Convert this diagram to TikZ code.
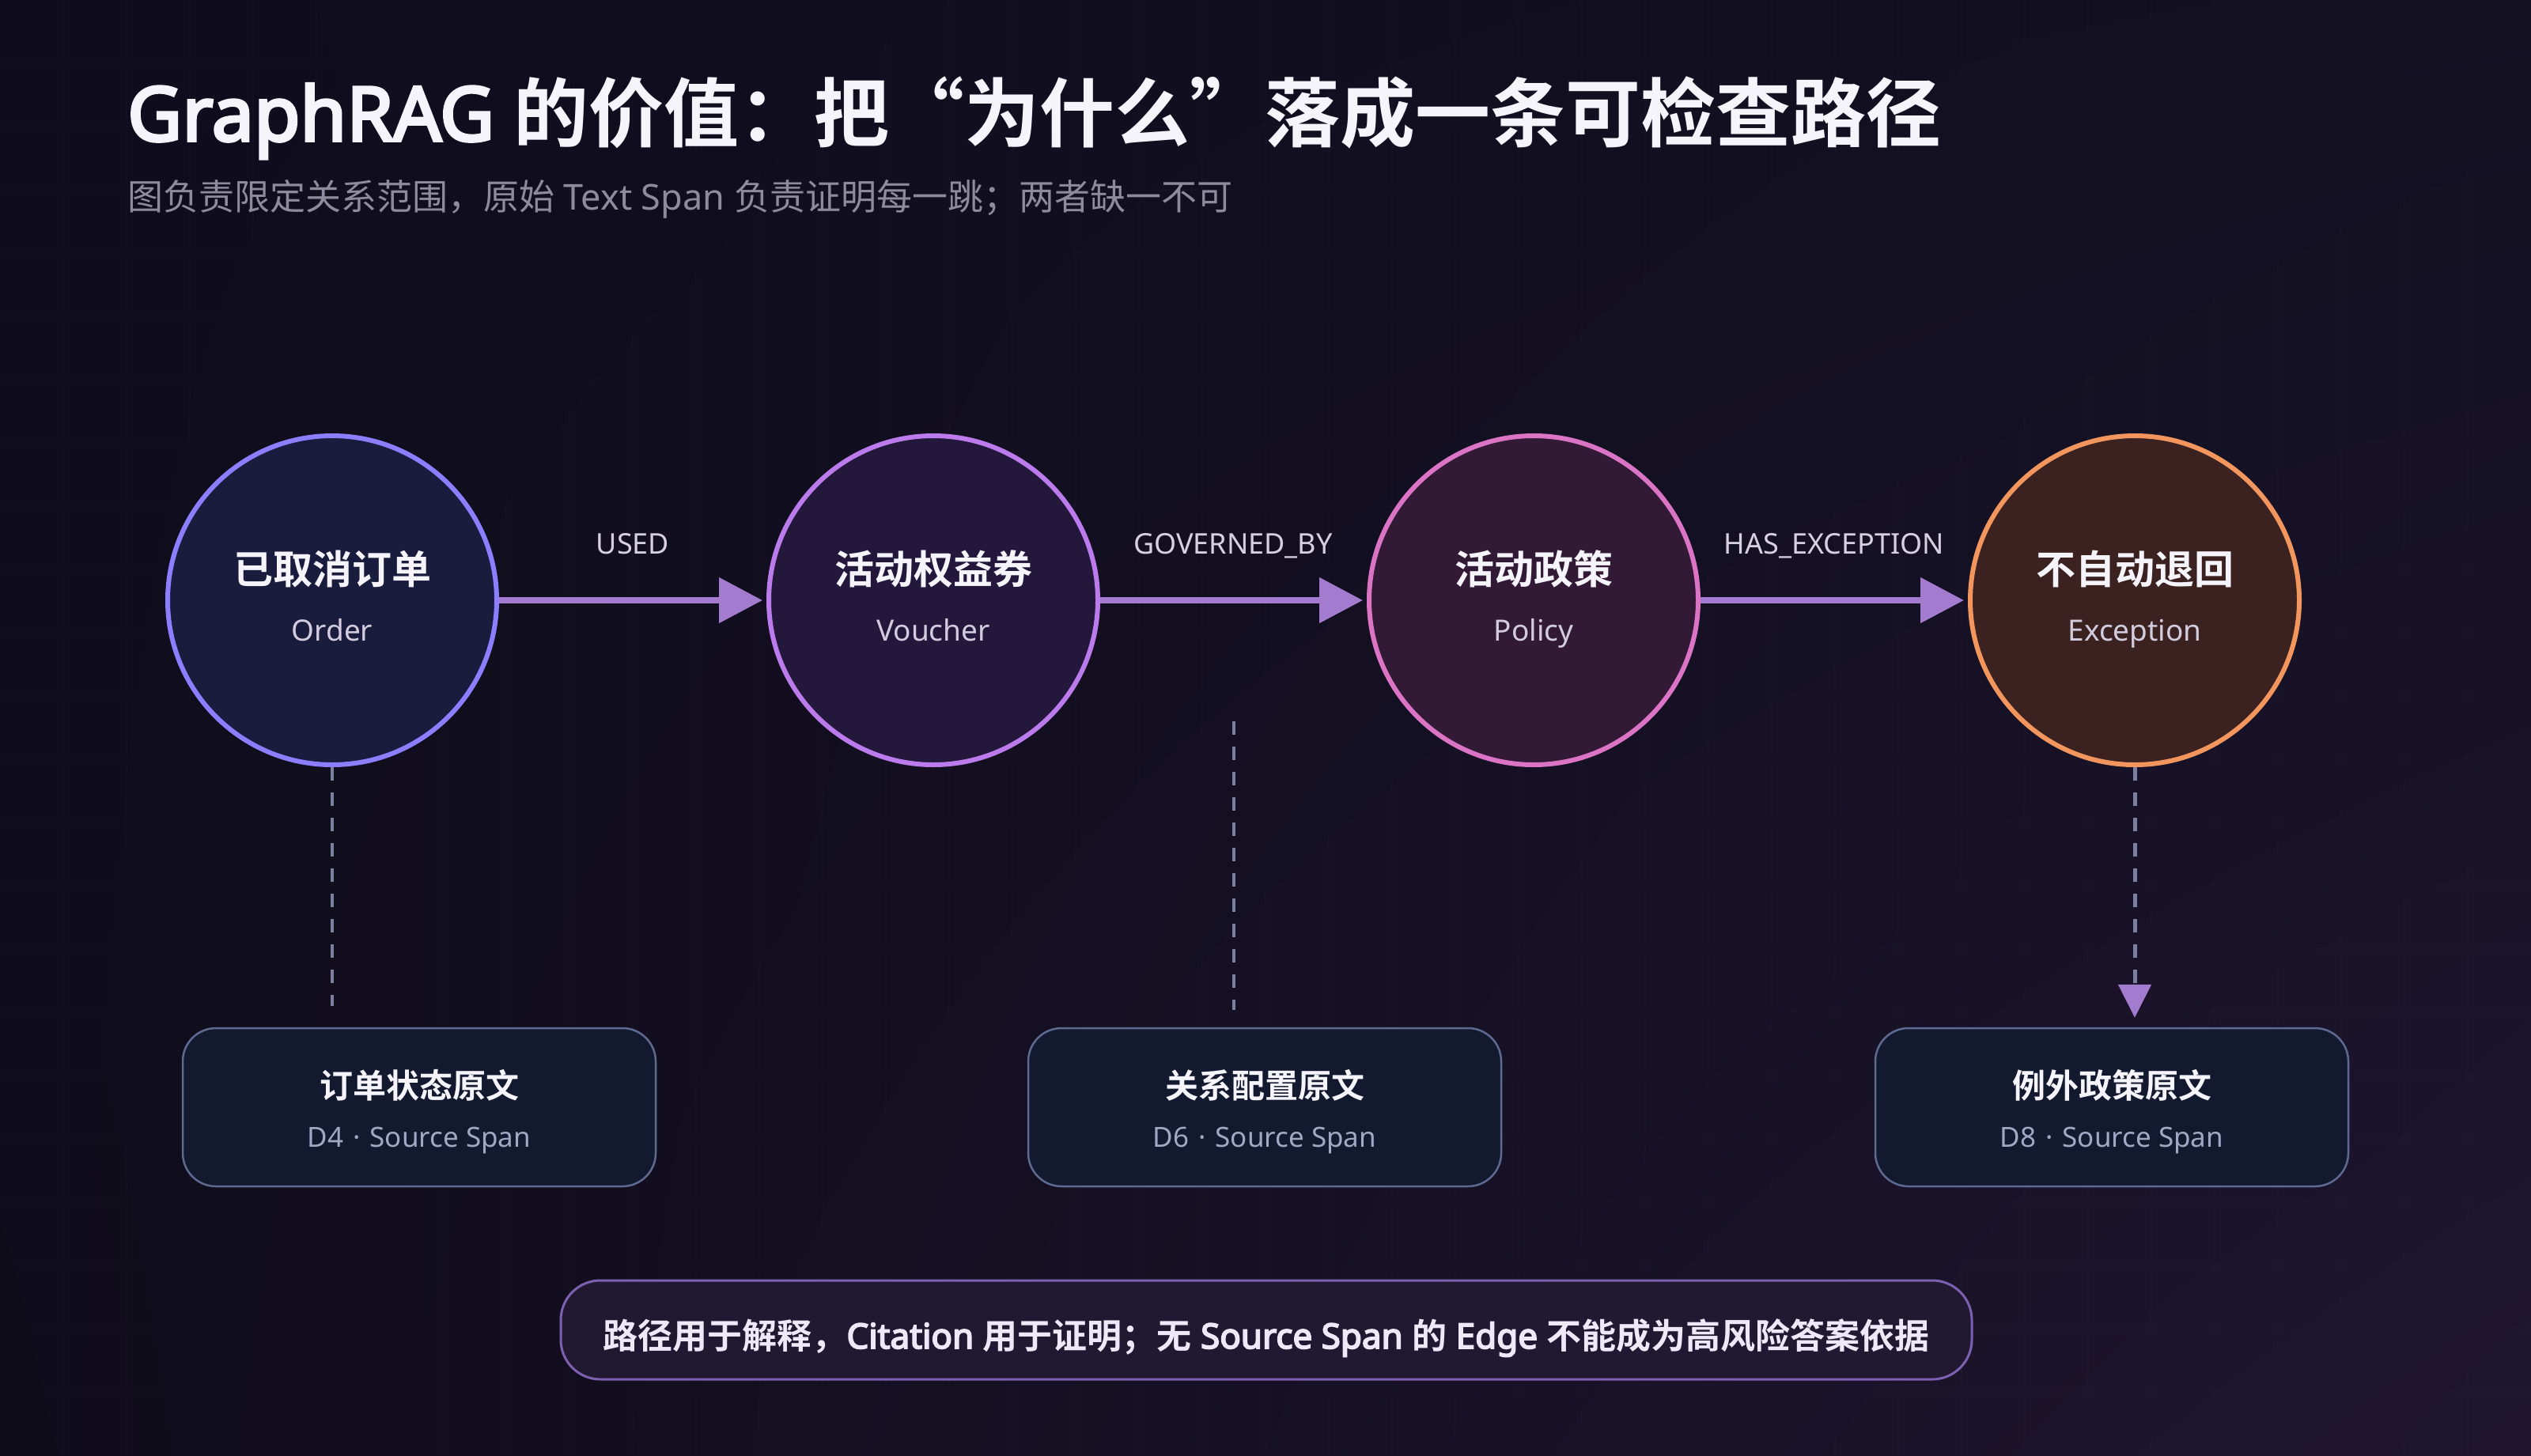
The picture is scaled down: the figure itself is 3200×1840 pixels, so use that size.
\documentclass[tikz,border=0pt]{standalone}
\usepackage{fontspec}
\setmainfont{Noto Sans}[BoldFont={Noto Sans}, BoldFeatures={FakeBold=4}]
\newfontfamily\cjk{Noto Sans CJK SC}[BoldFont={Noto Sans CJK SC Bold}]
\usetikzlibrary{arrows.meta,calc,shadings}
\definecolor{bgTL}{HTML}{0F0D1D}
\definecolor{bgTR}{HTML}{121021}
\definecolor{bgBL}{HTML}{0F0C1A}
\definecolor{bgBR}{HTML}{1F1530}
\definecolor{titlec}{HTML}{F6F4FB}
\definecolor{subc}{HTML}{8E8B9F}
\definecolor{arrowc}{HTML}{A47CCF}
\definecolor{lblc}{HTML}{D6D0E2}
\definecolor{entsub}{HTML}{D2CCDE}
\definecolor{fillA}{HTML}{1A1C3E}
\definecolor{drawA}{HTML}{8C7EFF}
\definecolor{fillB}{HTML}{23183C}
\definecolor{drawB}{HTML}{BC7BEC}
\definecolor{fillC}{HTML}{321A36}
\definecolor{drawC}{HTML}{DC74C6}
\definecolor{fillD}{HTML}{3B2220}
\definecolor{drawD}{HTML}{F2965E}
\definecolor{boxfill}{HTML}{131A2F}
\definecolor{boxdraw}{HTML}{5E6A90}
\definecolor{boxsub}{HTML}{A0A8C4}
\definecolor{dashc}{HTML}{7A809E}
\definecolor{notefill}{HTML}{211931}
\definecolor{notedraw}{HTML}{7E60B0}
\definecolor{notetext}{HTML}{EEE8F8}
\newcommand\middot{\hspace{12pt}·\hspace{12pt}}
\tikzset{
  entity/.style={circle, minimum size=416pt, inner sep=0pt, line width=6pt},
  enttitle/.style={anchor=base, inner sep=0pt, text=titlec, font=\cjk\bfseries\fontsize{50}{60}\selectfont},
  entsubt/.style={anchor=base, inner sep=0pt, text=entsub, font=\fontsize{37}{44}\selectfont},
  edgelbl/.style={anchor=base, inner sep=0pt, text=lblc, font=\fontsize{36}{42}\selectfont},
  edgearrow/.style={line width=8pt, draw=arrowc, -{Triangle[length=55pt,width=56pt]}, shorten >=5pt},
  srcbox/.style={rectangle, rounded corners=42pt, minimum width=598pt, minimum height=200pt, fill=boxfill, draw=boxdraw, line width=2.5pt},
  boxtitle/.style={anchor=base, inner sep=0pt, text=titlec, font=\cjk\bfseries\fontsize{42}{50}\selectfont},
  boxsubt/.style={anchor=base, inner sep=0pt, text=boxsub, font=\fontsize{35}{40}\selectfont},
  spanlink/.style={draw=dashc, line width=4pt, dash pattern=on 17pt off 15pt},
  notebox/.style={rectangle, rounded corners=50pt, minimum width=1784pt, minimum height=125pt, fill=notefill, draw=notedraw, line width=3pt},
}
\begin{document}
\begin{tikzpicture}[x=1pt,y=-1pt]
\useasboundingbox (0,0) rectangle (3200,1840);
\shade[upper left=bgTL, upper right=bgTR, lower left=bgBL, lower right=bgBR] (0,0) rectangle (3200,1840);
\foreach \gx in {80,160,...,3120} \draw[white, opacity=0.02, line width=1.5pt] (\gx,0) -- (\gx,1840);
\foreach \gy in {80,160,...,1760} \draw[white, opacity=0.015, line width=1.5pt] (0,\gy) -- (3200,\gy);

% title
\node[anchor=base west, inner sep=0pt, text=titlec] (title) at (161,178)
  {\fontsize{95}{104}\selectfont\bfseries GraphRAG {\cjk 的价值：把“为什么”落成一条可检查路径}};
\node[anchor=base west, inner sep=0pt, text=subc] (subtitle) at (161,265)
  {\fontsize{45}{54}\selectfont{\cjk 图负责限定关系范围，原始} Text Span {\cjk 负责证明每一跳；两者缺一不可}};

% entities
\node[entity, fill=fillA, draw=drawA] (c1) at (420,759) {};
\node[entity, fill=fillB, draw=drawB] (c2) at (1180,759) {};
\node[entity, fill=fillC, draw=drawC] (c3) at (1939,759) {};
\node[entity, fill=fillD, draw=drawD] (c4) at (2699,759) {};
\node[enttitle] (c1t) at (420,738) {已取消订单};
\node[entsubt] (c1s) at (420,810) {Order};
\node[enttitle] (c2t) at (1180,738) {活动权益券};
\node[entsubt] (c2s) at (1180,810) {Voucher};
\node[enttitle] (c3t) at (1939,738) {活动政策};
\node[entsubt] (c3s) at (1939,810) {Policy};
\node[enttitle] (c4t) at (2699,738) {不自动退回};
\node[entsubt] (c4s) at (2699,810) {Exception};

% edges
\draw[edgearrow] (c1.east) -- (c2.west);
\draw[edgearrow] (c2.east) -- (c3.west);
\draw[edgearrow] (c3.east) -- (c4.west);
\node[edgelbl] (l1) at (800,700) {USED};
\node[edgelbl] (l2) at (1559,700) {GOVERNED\_BY};
\node[edgelbl] (l3) at (2319,700) {HAS\_EXCEPTION};

% source boxes
\node[srcbox] (b1) at (530,1400) {};
\node[srcbox] (b2) at (1599,1400) {};
\node[srcbox] (b3) at (2670,1400) {};
\node[boxtitle] (b1t) at (530,1388) {订单状态原文};
\node[boxsubt] (b1s) at (530,1450) {D4\middot Source Span};
\node[boxtitle] (b2t) at (1599,1388) {关系配置原文};
\node[boxsubt] (b2s) at (1599,1450) {D6\middot Source Span};
\node[boxtitle] (b3t) at (2670,1388) {例外政策原文};
\node[boxsubt] (b3s) at (2670,1450) {D8\middot Source Span};

% span links
\coordinate (g) at (1560,912);
\draw[spanlink, shorten >=27pt] (c1.south) -- (c1.south |- b1.north);
\draw[spanlink, shorten >=22pt] (g) -- (g |- b2.north);
\draw[spanlink, line width=5pt, shorten >=12pt, -{Triangle[length=42pt,width=41pt,color=arrowc]}] (c4.south) -- (c4.south |- b3.north);

% note
\node[notebox] (note) at (1601,1681.5) {};
\node[anchor=base, inner sep=0pt, text=notetext] (notet) at (1601,1705)
  {\fontsize{44}{52}\selectfont\bfseries{\cjk 路径用于解释，}Citation {\cjk 用于证明；无} Source Span {\cjk 的} Edge {\cjk 不能成为高风险答案依据}};
\end{tikzpicture}
\end{document}
